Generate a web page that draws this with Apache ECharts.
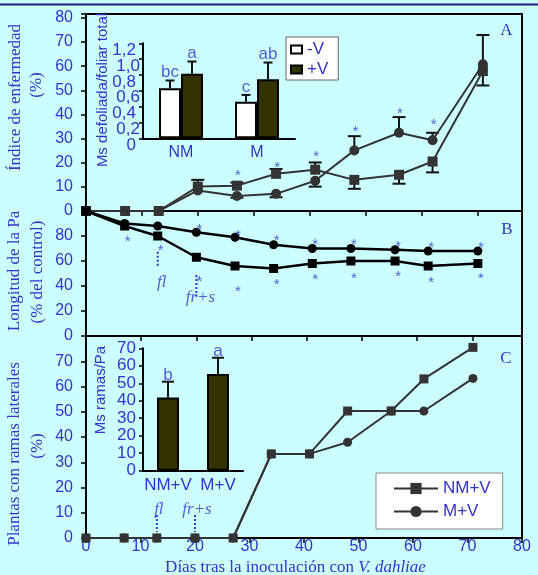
<!DOCTYPE html>
<html><head><meta charset="utf-8">
<script src="https://cdn.jsdelivr.net/npm/echarts@6/dist/echarts.min.js"></script>
<style>html,body{margin:0;padding:0;background:#ccffff;}#c{width:538px;height:575px;}</style>
</head><body><div id="c"></div>
<script>
// ---------- data ----------
const days = [0, 7, 13, 20, 27, 34, 41, 48, 56, 62, 71];
// Panel A: disease index (%)
const aNM = [0, 0, 0, 10.1, 10.5, 15.4, 17.1, 12.9, 15, 20.5, 58];
const aM = [0, 0, 0, 8.5, 6.2, 7.1, 12.5, 25.1, 32.4, 29.3, 60.8];
const aNMErr = [null, null, null, 12.9, 11.8, 17.4, 20.1, 9.2, 11.3, 16, 52];
const aMErr = [null, null, null, null, 5.5, 5.7, 10.1, 31, 38.9, 32.4, 72.9];
const aStarDays = [27, 34, 41, 48, 56, 62];
const aStarY = [16.4, 19.6, 24, 34.5, 41.8, 37.5];
// Panel B: main stem length (% of control)
const bNM = [100, 88, 80, 63, 56, 54, 58, 60, 60, 56, 58];
const bM = [100, 90, 88, 83, 79, 73, 70, 70, 69, 68, 68];
const bStarLowDays = [7, 13, 20, 27, 34, 41, 48, 56, 62, 71];
const bStarLowY = [78.2, 71, 46.2, 38.2, 44.2, 48, 48.8, 50.2, 45.4, 48.8];
const bStarUpDays = [20, 27, 34, 41, 48, 56, 62, 71];
const bStarUpY = [88, 83.4, 79.4, 76, 76, 74.2, 73.6, 73.6];
// Panel C: plants with lateral branches (%)
const cNM = [0, 0, 0, 0, 0, 33.3, 33.3, 50.3, 50.3, 63, 75.5];
const cM = [0, 0, 0, 0, 0, 33.3, 33.3, 37.9, 50.3, 50.3, 63.2];
// phenological stages
const stageNames = ['fl', 'fr+s'];
const stageDays = [13, 20];
const bStageTop = [67.4, 48.8];
const bStageBottom = [55.4, 31.4];
const bStageLabelY = [43, 30.4];
const cStageTop = [9.1, 9.1];
const cStageBottom = [2.4, 2.4];
const cStageLabelY = [11.4, 11.4];
// Inset A: defoliated / total leaf dry matter
const insetACats = ['NM', 'M'];
const defolNegV = [0.633, 0.463];
const defolPosV = [0.814, 0.747];
const defolNegVErr = [0.73, 0.548];
const defolPosVErr = [0.97, 0.957];
const defolNegVLetters = ['bc', 'c'];
const defolPosVLetters = ['a', 'ab'];
// Inset C: branch dry matter per plant
const insetCCats = ['NM+V', 'M+V'];
const ramas = [41.9, 55.3];
const ramasErr = [50.9, 64.6];
const ramasLetters = ['b', 'a'];

// ---------- styles ----------
const BLUE = '#3333cc';
const SANS = 'Liberation Sans, Arial, sans-serif';
const SERIF = 'Liberation Serif, Times New Roman, serif';
const axLine = {show: true, onZero: false, lineStyle: {color: '#000', width: 2}};
const tickOut = {show: true, inside: false, length: 5, lineStyle: {color: '#000', width: 1.5}};

function pairs(xs, ys) { return xs.map((x, i) => [x, ys[i]]); }
function errData(xs, ys, es) {
  const out = [];
  xs.forEach((x, i) => { if (es[i] != null) out.push([x, ys[i], es[i]]); });
  return out;
}
function errRender(capW, dx) {
  return function (params, api) {
    const p0 = api.coord([api.value(0), api.value(1)]);
    const p1 = api.coord([api.value(0), api.value(2)]);
    const x = p0[0] + dx;
    return {type: 'group', children: [
      {type: 'line', shape: {x1: x, y1: p0[1], x2: x, y2: p1[1]}, style: {stroke: '#111', lineWidth: 2}},
      {type: 'line', shape: {x1: x - capW / 2, y1: p1[1], x2: x + capW / 2, y2: p1[1]}, style: {stroke: '#111', lineWidth: 2}}
    ]};
  };
}
function textSeries(name, xi, yi, data, labels, opt) {
  return {
    name: name, type: 'scatter', xAxisIndex: xi, yAxisIndex: yi, data: data,
    symbol: 'circle', symbolSize: 1, itemStyle: {color: 'rgba(0,0,0,0)'}, z: 6, silent: true, clip: false,
    label: Object.assign({show: true, color: BLUE, formatter: p => labels[p.dataIndex]}, opt)
  };
}
function vtext(x, y, t, font) {
  return {type: 'text', x: x, y: y, rotation: Math.PI / 2,
    style: {text: t, fill: BLUE, font: font, align: 'center', verticalAlign: 'middle', textAlign: 'center', textVerticalAlign: 'middle'}};
}
function htext(x, y, t, font) {
  return {type: 'text', x: x, y: y,
    style: {text: t, fill: BLUE, font: font, align: 'center', verticalAlign: 'middle', textAlign: 'center', textVerticalAlign: 'middle'}};
}
const commaFmt = v => (Math.abs(v) < 1e-9 ? '0' : v.toFixed(1).replace('.', ','));
const insetALabel = {color: BLUE, fontSize: 17, verticalAlign: 'top', lineHeight: 14, fontFamily: SANS, margin: 3,
  showMinLabel: true, showMaxLabel: true};

const chart = echarts.init(document.getElementById('c'), null, {renderer: 'canvas'});
const option = {
  animation: false,
  backgroundColor: '#ccffff',
  textStyle: {fontFamily: SANS},
  grid: [
    {left: 86, top: 14, width: 436, height: 197, show: true, borderColor: '#000', borderWidth: 2, backgroundColor: 'transparent'},
    {left: 86, top: 211, width: 436, height: 125, show: true, borderColor: '#000', borderWidth: 2, backgroundColor: 'transparent'},
    {left: 86, top: 336, width: 436, height: 202, show: true, borderColor: '#000', borderWidth: 2, backgroundColor: 'transparent'},
    {left: 143, top: 43.3, width: 152, height: 95},
    {left: 143, top: 348.3, width: 100, height: 122.4}
  ],
  xAxis: [
    {gridIndex: 0, type: 'value', min: 0, max: 78, interval: 10, axisLine: axLine, axisTick: tickOut, axisLabel: {show: false}, splitLine: {show: false}},
    {gridIndex: 1, type: 'value', min: 0, max: 79, interval: 10, axisLine: axLine, axisTick: tickOut, axisLabel: {show: false}, splitLine: {show: false}},
    {gridIndex: 2, type: 'value', min: 0, max: 80, interval: 10, axisLine: axLine, axisTick: tickOut, splitLine: {show: false},
      axisLabel: {color: BLUE, fontSize: 16, fontFamily: SANS, margin: 1, showMinLabel: true, showMaxLabel: true}},
    {gridIndex: 3, type: 'category', data: insetACats, axisLine: axLine, axisTick: {show: false},
      axisLabel: {color: BLUE, fontSize: 16, fontFamily: SANS, margin: 6, interval: 0}},
    {gridIndex: 4, type: 'category', data: insetCCats, axisLine: axLine, axisTick: {show: false},
      axisLabel: {color: BLUE, fontSize: 17, fontFamily: SANS, margin: 6, interval: 0}}
  ],
  yAxis: [
    {gridIndex: 0, type: 'value', min: 0, max: 81.6, interval: 10, axisLine: axLine, axisTick: tickOut, splitLine: {show: false},
      axisLabel: {color: BLUE, fontSize: 16, fontFamily: SANS, margin: 13, padding: [7, 0, 0, 0], showMinLabel: true,
        formatter: v => (Math.abs(v % 10) < 1e-6 ? String(v) : '')}},
    {gridIndex: 1, type: 'value', min: 0, max: 100, interval: 20, axisLine: axLine, axisTick: tickOut, splitLine: {show: false},
      axisLabel: {color: BLUE, fontSize: 16, fontFamily: SANS, margin: 13, padding: [7, 0, 0, 0], showMinLabel: true, showMaxLabel: false}},
    {gridIndex: 2, type: 'value', min: 0, max: 80, interval: 10, axisLine: axLine, axisTick: tickOut, splitLine: {show: false},
      axisLabel: {color: BLUE, fontSize: 16, fontFamily: SANS, margin: 13, padding: [7, 0, 0, 0], showMinLabel: true, showMaxLabel: false}},
    // inset A: ticks every 0.2, labels for 0.2 / 0.6 / 1.0
    {gridIndex: 3, type: 'value', position: 'left', offset: 0, min: 0, max: 1.2, interval: 0.2, axisLine: axLine,
      axisTick: {show: true, inside: false, length: 4, lineStyle: {color: '#000', width: 1.5}}, splitLine: {show: false},
      axisLabel: Object.assign({}, insetALabel, {formatter: v => (Math.round(v * 10) % 4 === 2 ? commaFmt(v) : '')})},
    {gridIndex: 4, type: 'value', min: 0, max: 70, interval: 10, axisLine: axLine,
      axisTick: {show: true, inside: false, length: 4, lineStyle: {color: '#000', width: 1.5}}, splitLine: {show: false},
      axisLabel: {color: BLUE, fontSize: 17, fontFamily: SANS, margin: 7, padding: [5, 0, 0, 0], showMinLabel: true, showMaxLabel: true}},
    // inset A: labels for 0 / 0.4 / 0.8 / 1.2
    {gridIndex: 3, type: 'value', position: 'left', offset: 0, min: 0, max: 1.2, interval: 0.4, axisLine: {show: false}, axisTick: {show: false},
      splitLine: {show: false}, axisLabel: Object.assign({}, insetALabel, {margin: 7, formatter: commaFmt})}
  ],
  legend: [
    {data: ['-V', '+V'], orient: 'vertical', left: 286, top: 37, backgroundColor: '#fff', borderColor: '#666', borderWidth: 1,
      padding: [4, 10, 2, 4], itemGap: 3, itemWidth: 11, itemHeight: 8, icon: 'rect', selectedMode: false,
      textStyle: {color: BLUE, fontSize: 17, fontFamily: SANS}},
    {data: ['NM+V', 'M+V'], orient: 'vertical', left: 376, top: 473, backgroundColor: '#fff', borderColor: '#888', borderWidth: 1,
      padding: [7, 12, 9, 17], itemGap: 6, itemWidth: 44, itemHeight: 14, selectedMode: false,
      textStyle: {color: BLUE, fontSize: 17, fontFamily: SANS}}
  ],
  series: [
    // ---- Panel A ----
    {name: 'A NM+V', type: 'line', xAxisIndex: 0, yAxisIndex: 0, data: pairs(days, aNM), clip: false, z: 4,
      symbol: 'rect', symbolSize: 10, itemStyle: {color: '#333'}, lineStyle: {color: '#333', width: 2}},
    {name: 'A M+V', type: 'line', xAxisIndex: 0, yAxisIndex: 0, data: pairs(days, aM), clip: false, z: 4,
      symbol: 'circle', symbolSize: 10, itemStyle: {color: '#333'}, lineStyle: {color: '#333', width: 2}},
    {name: 'A NM err', type: 'custom', xAxisIndex: 0, yAxisIndex: 0, data: errData(days, aNM, aNMErr), renderItem: errRender(13, 0), z: 3, clip: false},
    {name: 'A M err', type: 'custom', xAxisIndex: 0, yAxisIndex: 0, data: errData(days, aM, aMErr), renderItem: errRender(13, 0), z: 3, clip: false},
    textSeries('A stars', 0, 0, pairs(aStarDays, aStarY), aStarDays.map(() => '*'),
      {position: 'inside', fontSize: 15, fontFamily: SANS, offset: [1, 4]}),
    // ---- Panel B ----
    {name: 'B NM+V', type: 'line', xAxisIndex: 1, yAxisIndex: 1, data: pairs(days, bNM), clip: false, z: 4,
      symbol: 'rect', symbolSize: 9, itemStyle: {color: '#000'}, lineStyle: {color: '#000', width: 2.5}},
    {name: 'B M+V', type: 'line', xAxisIndex: 1, yAxisIndex: 1, data: pairs(days, bM), clip: false, z: 4,
      symbol: 'circle', symbolSize: 9, itemStyle: {color: '#000'}, lineStyle: {color: '#000', width: 2.5}},
    textSeries('B stars low', 1, 1, pairs(bStarLowDays, bStarLowY), bStarLowDays.map(() => '*'),
      {position: 'inside', fontSize: 15, fontFamily: SANS, offset: [3, 4]}),
    textSeries('B stars up', 1, 1, pairs(bStarUpDays, bStarUpY), bStarUpDays.map(() => '*'),
      {position: 'inside', fontSize: 15, fontFamily: SANS, offset: [3, 4]}),
    ...stageDays.map((d, i) => ({name: 'B stage ' + stageNames[i], type: 'line', xAxisIndex: 1, yAxisIndex: 1,
      data: [[d, bStageTop[i]], [d, bStageBottom[i]]], symbol: 'none', silent: true, z: 3,
      lineStyle: {color: BLUE, width: 2, type: 'dotted'}})),
    textSeries('B stage labels', 1, 1, pairs(stageDays, bStageLabelY), stageNames,
      {position: 'inside', fontSize: 17, fontFamily: SERIF, fontStyle: 'italic', offset: [4, 0]}),
    // ---- Panel C ----
    {name: 'NM+V', type: 'line', xAxisIndex: 2, yAxisIndex: 2, data: pairs(days, cNM), clip: false, z: 4,
      symbol: 'rect', symbolSize: 9, itemStyle: {color: '#333'}, lineStyle: {color: '#333', width: 2}},
    {name: 'M+V', type: 'line', xAxisIndex: 2, yAxisIndex: 2, data: pairs(days, cM), clip: false, z: 4,
      symbol: 'circle', symbolSize: 9, itemStyle: {color: '#333'}, lineStyle: {color: '#333', width: 2}},
    ...stageDays.map((d, i) => ({name: 'C stage ' + stageNames[i], type: 'line', xAxisIndex: 2, yAxisIndex: 2,
      data: [[d, cStageTop[i]], [d, cStageBottom[i]]], symbol: 'none', silent: true, z: 3,
      lineStyle: {color: BLUE, width: 2, type: 'dotted'}})),
    textSeries('C stage labels', 2, 2, pairs(stageDays, cStageLabelY), stageNames,
      {position: 'inside', fontSize: 17, fontFamily: SERIF, fontStyle: 'italic', offset: [2, 0]}),
    // ---- Inset A ----
    {name: '-V', type: 'bar', xAxisIndex: 3, yAxisIndex: 3, data: defolNegV, barWidth: 22, barGap: '0%',
      itemStyle: {color: '#fff', borderColor: '#000', borderWidth: 2}},
    {name: '+V', type: 'bar', xAxisIndex: 3, yAxisIndex: 3, data: defolPosV, barWidth: 22, barGap: '0%',
      itemStyle: {color: '#333300', borderColor: '#000', borderWidth: 2}},
    {name: '-V err', type: 'custom', xAxisIndex: 3, yAxisIndex: 3, data: defolNegV.map((v, i) => [i, v, defolNegVErr[i]]),
      renderItem: errRender(9, -11), z: 5},
    {name: '+V err', type: 'custom', xAxisIndex: 3, yAxisIndex: 3, data: defolPosV.map((v, i) => [i, v, defolPosVErr[i]]),
      renderItem: errRender(9, 11), z: 5},
    textSeries('-V letters', 3, 3, defolNegVErr.map((e, i) => [i, e]), defolNegVLetters,
      {position: 'top', distance: -1, fontSize: 17, fontFamily: SANS, offset: [-11, 0]}),
    textSeries('+V letters', 3, 3, defolPosVErr.map((e, i) => [i, e]), defolPosVLetters,
      {position: 'top', distance: -1, fontSize: 17, fontFamily: SANS, offset: [11, 0]}),
    // ---- Inset C ----
    {name: 'Ms ramas', type: 'bar', xAxisIndex: 4, yAxisIndex: 4, data: ramas, barWidth: 22,
      itemStyle: {color: '#333300', borderColor: '#000', borderWidth: 2}},
    {name: 'Ms ramas err', type: 'custom', xAxisIndex: 4, yAxisIndex: 4, data: ramas.map((v, i) => [i, v, ramasErr[i]]),
      renderItem: errRender(12, 0), z: 5},
    textSeries('ramas letters', 4, 4, ramasErr.map((e, i) => [i, e]), ramasLetters,
      {position: 'top', distance: -3, fontSize: 17, fontFamily: SANS})
  ],
  graphic: [
    {type: 'line', shape: {x1: 0, y1: 4.5, x2: 538, y2: 4.5}, style: {stroke: '#1c1c80', lineWidth: 2}},
    vtext(16, 97.5, 'Índice de enfermedad', '17px ' + SERIF),
    vtext(37, 85, '(%)', '17px ' + SERIF),
    vtext(15, 271, 'Longitud de la Pa', '17px ' + SERIF),
    vtext(38, 272, '(% del control)', '17px ' + SERIF),
    vtext(15, 454, 'Plantas con ramas laterales', '17px ' + SERIF),
    vtext(38, 446, '(%)', '17px ' + SERIF),
    vtext(103, 90, 'Ms defoliada/foliar total', '15px ' + SANS),
    vtext(101, 390, 'Ms ramas/Pa', '15px ' + SANS),
    htext(506.5, 31, 'A', '17px ' + SERIF),
    htext(507, 230, 'B', '17px ' + SERIF),
    htext(506, 359, 'C', '17px ' + SERIF),
    {type: 'text', x: 295.5, y: 568,
      style: {text: '{n|Días tras la inoculación con }{i|V. dahliae}', align: 'center', verticalAlign: 'middle',
        textAlign: 'center', textVerticalAlign: 'middle',
        rich: {n: {fontFamily: SERIF, fontSize: 17, fill: BLUE, color: BLUE},
               i: {fontFamily: SERIF, fontSize: 17, fontStyle: 'italic', fill: BLUE, color: BLUE}}}}
  ]
};
chart.setOption(option);
</script></body></html>
